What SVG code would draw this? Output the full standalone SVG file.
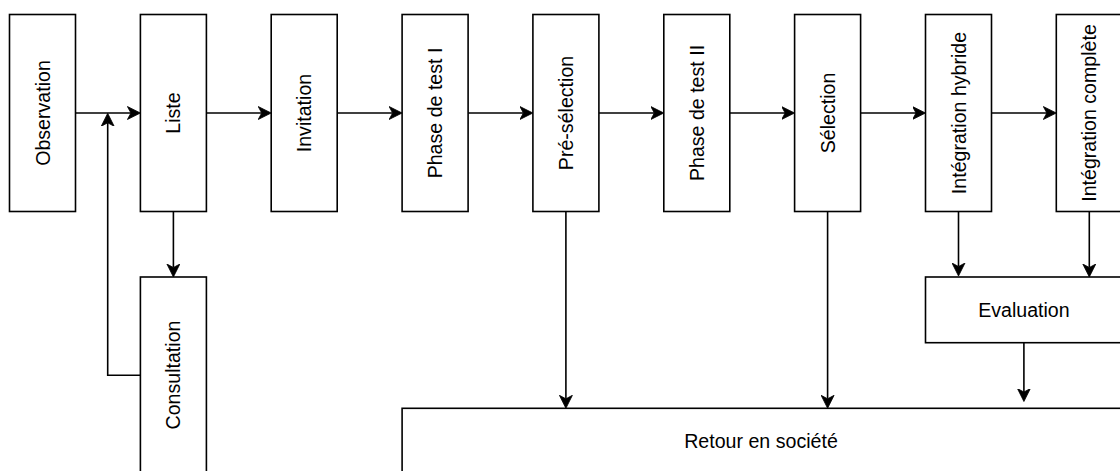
<svg xmlns="http://www.w3.org/2000/svg" width="1120" height="471" viewBox="0 0 1120 471">
<style>
.box{fill:#fff;stroke:#000;stroke-width:1.6}
.lbl{font-family:"Liberation Sans",Arial,Helvetica,sans-serif;font-size:19.6px;fill:#000;text-anchor:middle}
.edge{fill:none;stroke:#000;stroke-width:1.6}
</style>
<defs>
<marker id="arr" markerUnits="userSpaceOnUse" viewBox="0 -7 14 14" markerWidth="14" markerHeight="14" refX="3.5" refY="0" orient="auto">
<path d="M13,0 L0,-6.5 L3.5,0 L0,6.5 Z" fill="#000" stroke="#000" stroke-width="0.8"/>
</marker>
</defs>
<rect width="1120" height="471" fill="#fff"/>
<g id="edges">
<path class="edge" marker-end="url(#arr)" d="M75.5,113 H130.9"/>
<path class="edge" marker-end="url(#arr)" d="M206.4,113 H261.7"/>
<path class="edge" marker-end="url(#arr)" d="M337.2,113 H392.6"/>
<path class="edge" marker-end="url(#arr)" d="M468.1,113 H523.4"/>
<path class="edge" marker-end="url(#arr)" d="M598.9,113 H654.3"/>
<path class="edge" marker-end="url(#arr)" d="M729.8,113 H785.1"/>
<path class="edge" marker-end="url(#arr)" d="M860.6,113 H916"/>
<path class="edge" marker-end="url(#arr)" d="M991.5,113 H1046.8"/>
<path class="edge" marker-end="url(#arr)" d="M173.4,211.5 V267.5"/>
<path class="edge" marker-end="url(#arr)" d="M140.4,375.3 H107.7 V122.8"/>
<path class="edge" marker-end="url(#arr)" d="M565.9,211.5 V398.8"/>
<path class="edge" marker-end="url(#arr)" d="M827.6,211.5 V398.8"/>
<path class="edge" marker-end="url(#arr)" d="M958.5,211.5 V266.5"/>
<path class="edge" marker-end="url(#arr)" d="M1089.3,211.5 V267.5"/>
<path class="edge" marker-end="url(#arr)" d="M1023.9,342.7 V392"/>
</g>
<g id="observation"><rect class="box" x="9.5" y="14.5" width="66" height="197"/><text class="lbl" transform="translate(42.5,113) rotate(-90)" y="7">Observation</text></g>
<g id="liste"><rect class="box" x="140.4" y="14.5" width="66" height="197"/><text class="lbl" transform="translate(173.4,113) rotate(-90)" y="7">Liste</text></g>
<g id="invitation"><rect class="box" x="271.2" y="14.5" width="66" height="197"/><text class="lbl" transform="translate(304.2,113) rotate(-90)" y="7">Invitation</text></g>
<g id="phase1"><rect class="box" x="402.1" y="14.5" width="66" height="197"/><text class="lbl" transform="translate(435.1,113) rotate(-90)" y="7">Phase de test I</text></g>
<g id="preselection"><rect class="box" x="532.9" y="14.5" width="66" height="197"/><text class="lbl" transform="translate(565.9,113) rotate(-90)" y="7">Pré-sélection</text></g>
<g id="phase2"><rect class="box" x="663.8" y="14.5" width="66" height="197"/><text class="lbl" transform="translate(696.8,113) rotate(-90)" y="7">Phase de test II</text></g>
<g id="selection"><rect class="box" x="794.6" y="14.5" width="66" height="197"/><text class="lbl" transform="translate(827.6,113) rotate(-90)" y="7">Sélection</text></g>
<g id="hybride"><rect class="box" x="925.5" y="14.5" width="66" height="197"/><text class="lbl" transform="translate(958.5,113) rotate(-90)" y="7">Intégration hybride</text></g>
<g id="complete"><rect class="box" x="1056.3" y="14.5" width="66" height="197"/><text class="lbl" transform="translate(1089.3,113) rotate(-90)" y="7">Intégration complète</text></g>
<g id="consultation"><rect class="box" x="140.4" y="277" width="66" height="197"/><text class="lbl" transform="translate(173.4,375) rotate(-90)" y="7">Consultation</text></g>
<g id="evaluation"><rect class="box" x="925.5" y="277" width="196.8" height="65.7"/><text class="lbl" x="1023.9" y="316.5">Evaluation</text></g>
<g id="retour"><rect class="box" x="402.1" y="408.3" width="720" height="66"/><text class="lbl" x="761" y="448">Retour en société</text></g>
</svg>
